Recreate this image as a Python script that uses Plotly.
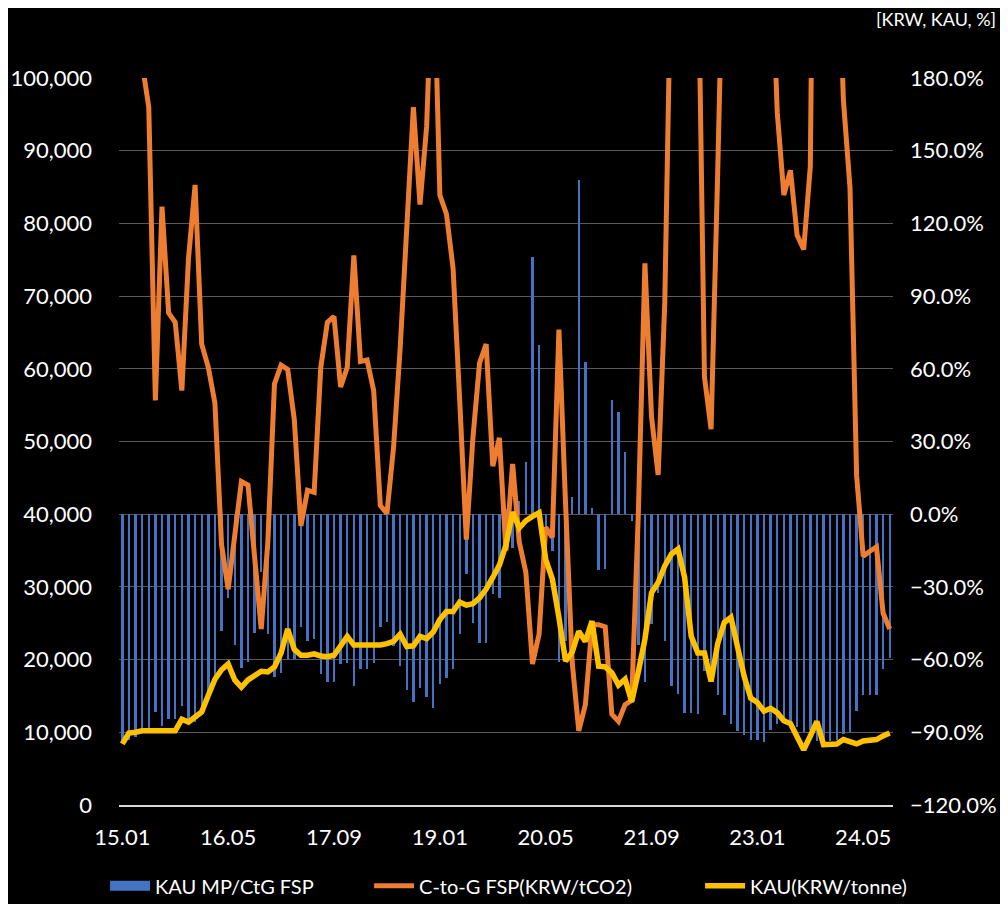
import pandas as pd
import plotly.graph_objects as go

# --- DATA (monthly, 2015-01 .. 2024-09) ---
months = pd.date_range("2015-01-01", periods=117, freq="MS").strftime("%y.%m").tolist()
tick_labels = ["15.01", "16.05", "17.09", "19.01", "20.05", "21.09", "23.01", "24.05"]

# KAU MP / CtG FSP (%), right axis
kau_vs_ctg = [
    -93, -93, -92, -90, -89.4, -81.6, -87.5, -84.7, -84.6, -79.3,
    -84.6, -85.7, -79.8, -75, -67, -48.3, -34.6, -54, -63.5, -61,
    -49, -24, -49.4, -67.2, -65.5, -59.6, -59.6, -46.4, -52.4, -51.6,
    -65.8, -69.3, -69.3, -61.8, -61.3, -71, -64, -64, -61.2, -46.6,
    -44.6, -54.2, -62.6, -72.6, -77.3, -71.9, -75.6, -80, -70.2, -67.4,
    -64, -49.5, -24.5, -45, -53.2, -53.2, -33, -34.5, 2, -13.8,
    5.4, 21.7, 106, 70, -11, -15, -61, -52.3, 7, 138,
    63, 2.5, -23, -22.6, 47, 42, 25.6, -3, -54, -69.4,
    -45.2, -32.6, -52.3, -71, -74, -82, -82, -82.6, -64.5, -67,
    -74.5, -83, -86.5, -89.4, -91, -93.3, -93, -94.2, -89, -86.7,
    -86.2, -87.2, -88, -90, -89.2, -93.6, -94, -93.6, -93.3, -90.7,
    -89.9, -81.4, -74.4, -74.5, -74.6, -64, -59.3,
]

# C-to-G FSP (KRW/tCO2), left axis
ctg_fsp = [
    120000, 141000, 125000, 102000, 96000, 55650, 82300, 67700, 66400, 57000,
    75100, 85300, 63400, 60200, 55300, 35800, 29700, 36800, 44500, 44000,
    34200, 24200, 36200, 57900, 60500, 59900, 53000, 38400, 43300, 43000,
    60200, 66400, 67200, 57500, 60200, 75600, 61000, 61200, 57000, 41200,
    40100, 49200, 62800, 79700, 96000, 82600, 93300, 119000, 83900, 81300,
    73800, 55700, 36500, 50500, 60800, 63400, 46600, 50500, 35000, 46900,
    36200, 32000, 19400, 23500, 38200, 36800, 65400, 41500, 19700, 10200,
    13800, 24800, 24800, 24500, 12500, 11500, 13800, 14400, 40000, 74500,
    53400, 45400, 69000, 119000, 135000, 174000, 129000, 120000, 58900, 51700,
    87000, 148000, 191000, 204000, 197000, 219000, 201000, 222000, 121000, 95300,
    83900, 87300, 78400, 76400, 87800, 180000, 138000, 130000, 125000, 97000,
    84900, 45300, 34200, 34900, 35500, 26400, 24200,
]

# KAU (KRW/tonne), left axis
kau_price = [
    8400, 9900, 10000, 10200, 10200, 10200, 10200, 10200, 10200, 11800,
    11400, 12100, 12800, 15100, 17300, 18600, 19400, 17200, 16200, 17200,
    17800, 18400, 18300, 19000, 20900, 24200, 21400, 20600, 20600, 20800,
    20500, 20400, 20600, 22000, 23200, 22000, 22000, 22100, 22100, 22000,
    22200, 22500, 23500, 21800, 21900, 23200, 22900, 23800, 25500, 26600,
    26600, 27900, 27500, 27700, 28500, 29700, 31300, 33000, 35800, 40300,
    38100, 39100, 39700, 40200, 33800, 31100, 25800, 19800, 21000, 23900,
    22500, 25300, 19100, 19000, 18200, 16500, 17300, 14200, 18300, 22800,
    29200, 30600, 32900, 34500, 35200, 31300, 23200, 20900, 20900, 17000,
    22200, 25100, 25800, 21600, 17700, 14700, 14100, 12900, 13300, 12700,
    11600, 11200, 9400, 7600, 9500, 11500, 8300, 8300, 8400, 9000,
    8600, 8400, 8800, 8900, 9000, 9500, 9900,
]

FONT = "Lato"
TXT = "#FFFFFF"
BLUE, ORANGE, YELLOW = "#4472C4", "#ED7D31", "#FFC000"

fig = go.Figure()

# bars on the primary (right-side) axis so the lines are drawn above them
fig.add_trace(go.Bar(
    x=months, y=kau_vs_ctg, name="KAU MP/CtG FSP",
    marker=dict(color=BLUE, line=dict(width=0)),
    width=0.36, yaxis="y", showlegend=False,
))
# legend-only entry: a wide blue block like the original legend key
fig.add_trace(go.Scatter(
    x=[None], y=[None], name="KAU MP/CtG FSP", mode="lines",
    line=dict(color=BLUE, width=14), yaxis="y2",
    legendrank=1, legendwidth=209,
))
fig.add_trace(go.Scatter(
    x=months, y=ctg_fsp, name="C-to-G FSP(KRW/tCO2)", mode="lines",
    line=dict(color=ORANGE, width=5), yaxis="y2",
    legendrank=2, legendwidth=276,
))
fig.add_trace(go.Scatter(
    x=months, y=kau_price, name="KAU(KRW/tonne)", mode="lines",
    line=dict(color=YELLOW, width=5.5), yaxis="y2",
    legendrank=3,
))

# page body has an 8px margin, so the figure is 8px smaller each way
fig.update_layout(
    width=1000, height=896,
    margin=dict(l=111, r=115, t=70, b=99, autoexpand=False),
    paper_bgcolor="black", plot_bgcolor="black",
    font=dict(family=FONT, size=22, color=TXT),
    bargap=0,
    xaxis=dict(
        type="category", range=[-0.5, 116.5], automargin=False,
        tickmode="array", tickvals=tick_labels, ticktext=tick_labels,
        showgrid=False, zeroline=False,
        showline=True, linecolor="#D9D9D9", linewidth=2,
        ticks="", ticklabelstandoff=12,
        tickfont=dict(family=FONT, size=22, color=TXT),
    ),
    yaxis=dict(
        side="right", range=[-120, 180], dtick=30, tick0=0, automargin=False,
        tickformat=".1f", ticksuffix="%",
        showgrid=False, zeroline=False, showline=False,
        ticks="", ticklabelstandoff=16,
        tickfont=dict(family=FONT, size=22, color=TXT),
    ),
    yaxis2=dict(
        side="left", overlaying="y", range=[0, 100000], dtick=10000, automargin=False,
        tickformat=",d",
        showgrid=True, gridcolor="#595959", gridwidth=1.3,
        zeroline=False, showline=False,
        ticks="", ticklabelstandoff=26,
        tickfont=dict(family=FONT, size=22, color=TXT),
    ),
    legend=dict(
        orientation="h", x=-0.018, xanchor="left", y=-0.111, yanchor="middle",
        font=dict(family=FONT, size=20, color=TXT),
        bgcolor="rgba(0,0,0,0)", itemwidth=40,
    ),
    showlegend=True,
)

fig.add_annotation(
    text="[KRW, KAU, %]", xref="paper", yref="paper",
    x=1.136, y=1.081, xanchor="right", yanchor="middle",
    showarrow=False, font=dict(family=FONT, size=18, color=TXT),
)

fig.write_html("out.html")
